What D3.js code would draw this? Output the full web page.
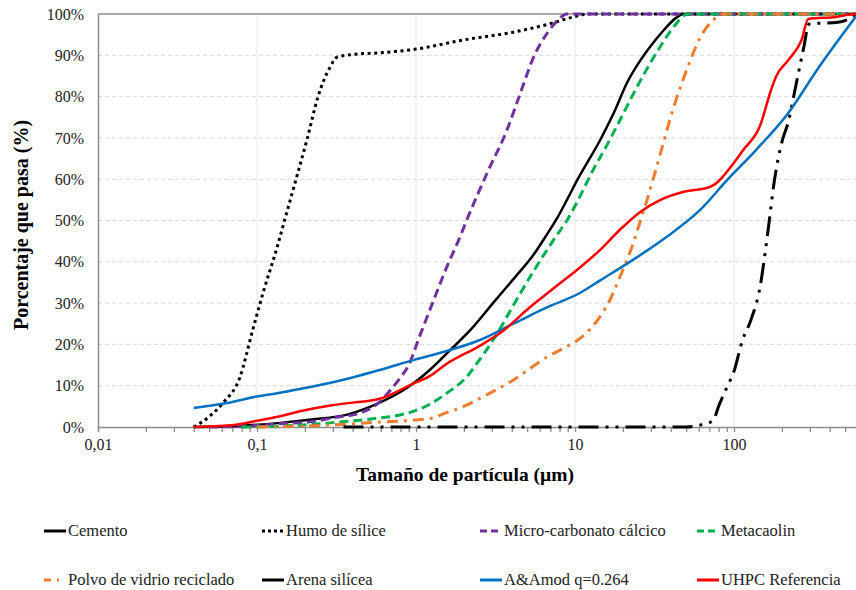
<!DOCTYPE html>
<html>
<head>
<meta charset="utf-8">
<script src="https://cdn.jsdelivr.net/npm/d3@7"></script>
<style>
  body { margin: 0; background: #fff; }
  svg text { font-family: "Liberation Serif", "Times New Roman", serif; }
</style>
</head>
<body>
<div id="container"></div>
<script>
// [tamaño µm, % que pasa]
const cemento = [[0.04,0],[0.08,0.3],[0.14,1.0],[0.22,1.8],[0.37,3.0],[0.6,6.0],[0.88,9.5],[1.22,13.8],[1.64,18.6],[2.2,23.5],[3.05,30],[4.2,36.3],[5.44,41.5],[6.5,46],[7.7,50.5],[8.9,55],[10.4,60],[14.4,69.5],[18,77],[21.2,83.3],[25,88],[29.6,92],[36,96],[43,99],[48,100],[600,100]];
const humo = [[0.04,0],[0.05,2.5],[0.061,5.8],[0.078,12],[0.094,23.5],[0.109,32.4],[0.134,43.6],[0.154,52],[0.179,61],[0.206,69.5],[0.242,80],[0.287,87],[0.32,89.6],[0.4,90.2],[0.59,90.6],[1.0,91.5],[1.98,93.7],[4.1,95.6],[7.2,97.8],[9.8,99.3],[12,100],[600,100]];
const microCarbonato = [[0.05,0],[0.086,0.2],[0.14,0.8],[0.22,1.3],[0.3,2.2],[0.46,3.6],[0.6,6.3],[0.7,9.2],[0.8,12],[0.9,15],[1.05,21.8],[1.27,30],[1.56,38.7],[1.89,46],[2.08,50],[2.8,61.5],[3.74,72],[4.5,80.5],[5.5,89.6],[6.7,95.4],[7.8,98.5],[8.9,100],[600,100]];
const metacaolin = [[0.08,0],[0.14,0.2],[0.29,1],[0.59,2.2],[0.79,2.9],[0.96,3.8],[1.22,5.5],[1.56,8.2],[2.08,12.1],[2.5,16.2],[3.05,21],[4.1,29.5],[5.44,37.5],[6.7,43],[7.7,46.5],[8.9,50],[10.8,56],[12.9,62],[15.5,67.5],[18.2,72.6],[24.5,82.3],[33,91],[41.8,96.9],[51,100],[600,100]];
const polvoVidrio = [[0.1,0],[0.3,0.5],[0.59,1.2],[0.92,1.6],[1.27,2.2],[1.56,3.5],[1.89,4.6],[2.63,7.3],[4.1,11.4],[6.7,17],[8.9,19.5],[10.8,21.5],[14.3,26.6],[16.7,31],[19,36],[23,44],[25.6,49.5],[28.4,55],[31,60],[34.5,66.3],[41.8,77.5],[51,87],[61.5,94.4],[73.7,98.5],[85,100],[600,100]];
const arena = [[0.35,0],[50,0],[60,0.4],[73.7,1.5],[80,5],[90,9.5],[100,13.5],[113,21],[128,26],[146,34],[163,47],[180,60],[200,69],[220,74],[240,81],[255,86],[275,92],[295,97.5],[300,97.6],[450,98],[560,99.3],[600,100]];
const aAmod = [[0.04,4.6],[0.065,5.8],[0.1,7.4],[0.14,8.3],[0.186,9.2],[0.29,10.7],[0.59,13.8],[0.96,16.2],[1.56,18.4],[2.5,21],[4.1,25],[6.7,29],[10.8,32.5],[14.4,35.5],[23,40.4],[37.6,46],[61,52.5],[91.6,60],[137,67],[222,76.3],[340,87],[600,100]];
const uhpc = [[0.04,0],[0.068,0.4],[0.1,1.5],[0.14,2.6],[0.186,3.8],[0.29,5.2],[0.4,5.9],[0.5,6.3],[0.6,6.9],[0.96,10.5],[1.22,12.3],[1.56,15.3],[2.5,19.6],[3.4,22.8],[5.2,29],[8.05,34.8],[10.8,38.7],[14.4,42.9],[19.1,47.7],[25.6,52],[34.5,55],[47.6,56.9],[70,58.1],[76,58.8],[100,64],[114,67],[146,73],[171,81.6],[183,84.7],[220,88.9],[266,93.7],[293,98.8],[440,99.3],[580,100],[600,100]];

const seriesNames = ["Cemento","Humo de sílice","Micro-carbonato cálcico","Metacaolin","Polvo de vidrio reciclado","Arena silícea","A&Amod q=0.264","UHPC Referencia"];
const xTicks = [0.01, 0.1, 1, 10, 100];
const xTickLabels = ["0,01", "0,1", "1", "10", "100"];
const yTicks = [0, 10, 20, 30, 40, 50, 60, 70, 80, 90, 100];

document.addEventListener("DOMContentLoaded", () => {
  const W = 856, H = 590;
  const left = 98, top = 14, bottom = 427;

  const svg = d3.select("#container")
    .append("svg")
    .attr("width", W)
    .attr("height", H);

  const x = d3.scaleLog().domain([0.01, 1000]).range([left, left + 5 * 159]);
  const y = d3.scaleLinear().domain([0, 100]).range([bottom, top]);

  const series = [
    { data: cemento,        color: "#000000", width: 2.5, dash: null,            legDash: null },
    { data: humo,           color: "#000000", width: 3,   dash: "3,3.6",         legDash: "3,3" },
    { data: microCarbonato, color: "#7030A0", width: 3,   dash: "9,5",           legDash: "7,4" },
    { data: metacaolin,     color: "#00B050", width: 3,   dash: "9,5",           legDash: "7,4" },
    { data: polvoVidrio,    color: "#ED7D31", width: 3,   dash: "11,6,3,6",      legDash: "7,6,2,20" },
    { data: arena,          color: "#000000", width: 3,   dash: "20,7,3,7,3,7",  legDash: null },
    { data: aAmod,          color: "#0070C0", width: 2.5, dash: null,            legDash: null },
    { data: uhpc,           color: "#FF0000", width: 2.5, dash: null,            legDash: null }
  ];

  svg.append("clipPath").attr("id", "plot-clip")
    .append("rect").attr("x", left).attr("y", 0).attr("width", W - left).attr("height", bottom + 4);

  // gridlines
  svg.append("g")
    .selectAll("line")
    .data(yTicks.filter(d => d > 0 && d < 100))
    .join("line")
    .attr("x1", left).attr("x2", W)
    .attr("y1", d => y(d)).attr("y2", d => y(d))
    .attr("stroke", "#d9d9d9")
    .attr("stroke-dasharray", "4,3");

  svg.append("g")
    .selectAll("line")
    .data(xTicks.slice(1))
    .join("line")
    .attr("x1", d => x(d)).attr("x2", d => x(d))
    .attr("y1", top).attr("y2", bottom)
    .attr("stroke", "#e8e8e8");

  // top frame line
  svg.append("line")
    .attr("x1", left).attr("x2", W)
    .attr("y1", y(100)).attr("y2", y(100))
    .attr("stroke", "#8c8c8c").attr("stroke-width", 1.5);

  // X axis, major + minor ticks
  const minor = [];
  xTicks.forEach(t => { for (let k = 2; k <= 9; k++) minor.push(t * k); });

  const xAxis = svg.append("g")
    .attr("transform", `translate(0,${bottom})`)
    .call(d3.axisBottom(x).tickValues(xTicks).tickSizeOuter(0).tickSize(5).tickPadding(7)
      .tickFormat((d, i) => xTickLabels[i]));
  xAxis.append("g")
    .call(d3.axisBottom(x).tickValues(minor).tickSize(5).tickSizeOuter(0).tickFormat(""))
    .select(".domain").remove();
  xAxis.selectAll("path, line").attr("stroke", "#8c8c8c").attr("stroke-width", 1.3);
  xAxis.selectAll("text")
    .attr("font-size", 16)
    .attr("fill", "#222")
    .style("font-family", '"Liberation Serif", serif');

  // Y axis
  const yAxis = svg.append("g")
    .attr("transform", `translate(${left},0)`)
    .call(d3.axisLeft(y).tickValues(yTicks).tickSize(0).tickSizeOuter(0).tickPadding(14)
      .tickFormat(d => d + "%"));
  yAxis.select(".domain").attr("stroke", "#8c8c8c").attr("stroke-width", 1.5);
  yAxis.selectAll("text")
    .attr("font-size", 16)
    .attr("fill", "#222")
    .style("font-family", '"Liberation Serif", serif');

  // curves
  const line = d3.line()
    .x(d => x(d[0]))
    .y(d => y(d[1]))
    .curve(d3.curveMonotoneX);

  svg.append("g")
    .attr("clip-path", "url(#plot-clip)")
    .selectAll("path")
    .data(series)
    .join("path")
    .attr("d", d => line(d.data))
    .attr("fill", "none")
    .attr("stroke", d => d.color)
    .attr("stroke-width", d => d.width)
    .attr("stroke-dasharray", d => d.dash)
    .attr("stroke-linejoin", "round");

  // axis titles
  svg.append("text")
    .attr("x", 465).attr("y", 481)
    .attr("text-anchor", "middle")
    .attr("font-size", 19.5)
    .attr("font-weight", "bold")
    .text("Tamaño de partícula (µm)");

  svg.append("text")
    .attr("transform", "translate(28,225) rotate(-90)")
    .attr("text-anchor", "middle")
    .attr("font-size", 20)
    .attr("font-weight", "bold")
    .text("Porcentaje que pasa (%)");

  // legend
  const legCols = [44, 262, 480, 697];
  const legRows = [531, 580];
  const legend = svg.append("g")
    .selectAll("g")
    .data(series)
    .join("g")
    .attr("transform", (d, i) => `translate(${legCols[i % 4]},${legRows[Math.floor(i / 4)]})`);

  legend.append("line")
    .attr("x1", 0).attr("x2", 22)
    .attr("y1", 0).attr("y2", 0)
    .attr("stroke", d => d.color)
    .attr("stroke-width", 3)
    .attr("stroke-dasharray", d => d.legDash);

  legend.append("text")
    .attr("x", 24).attr("y", 0)
    .attr("dy", "0.33em")
    .attr("font-size", 16.5)
    .attr("fill", "#222")
    .text((d, i) => seriesNames[i]);
});
</script>
</body>
</html>
